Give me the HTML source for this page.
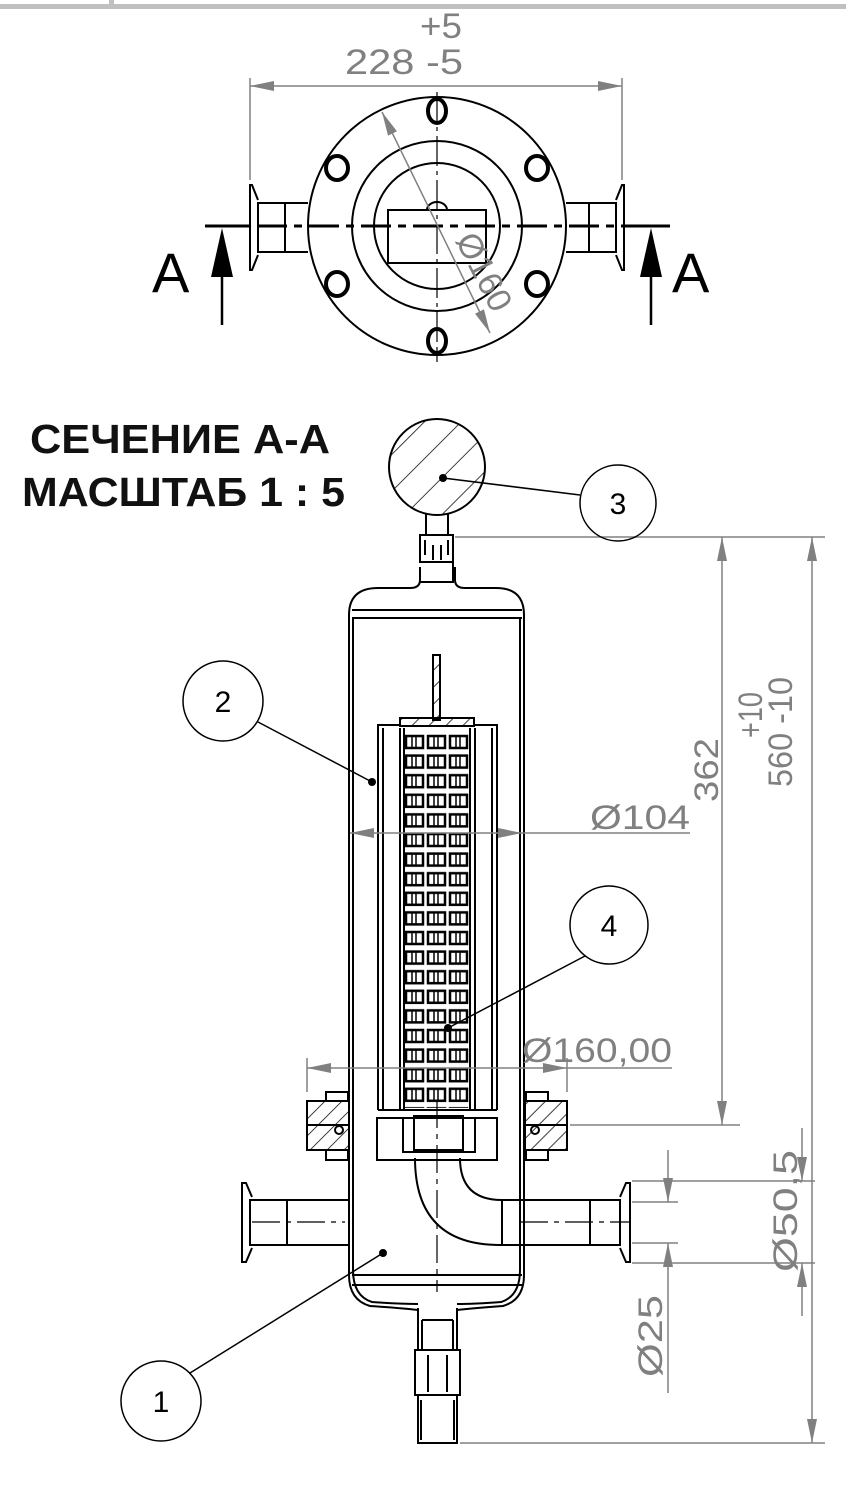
<!DOCTYPE html>
<html><head><meta charset="utf-8"><style>
html,body{margin:0;padding:0;background:#fff;}
svg{display:block;}
</style></head><body>
<svg width="846" height="1495" viewBox="0 0 846 1495" xmlns="http://www.w3.org/2000/svg" font-family="Liberation Sans, sans-serif">
<defs>
<marker id="ah" viewBox="0 0 24 10" refX="24" refY="5" markerWidth="24" markerHeight="10" markerUnits="userSpaceOnUse" orient="auto-start-reverse"><path d="M0,0 L24,5 L0,10 Z" fill="#808080"/></marker>
<pattern id="hatch" patternUnits="userSpaceOnUse" width="12" height="12" patternTransform="rotate(45)"><line x1="0" y1="0" x2="0" y2="12" stroke="#000" stroke-width="1.5"/></pattern>
<pattern id="hatchG" patternUnits="userSpaceOnUse" width="26" height="26" patternTransform="rotate(45)"><line x1="0" y1="0" x2="0" y2="26" stroke="#000" stroke-width="1.5"/></pattern>
<pattern id="grid" patternUnits="userSpaceOnUse" x="404" y="733" width="22" height="19.6">
<rect x="2" y="3" width="17" height="12" fill="none" stroke="#000" stroke-width="2.5"/>
<line x1="8" y1="4" x2="8" y2="14" stroke="#000" stroke-width="1.5"/><line x1="12" y1="4" x2="12" y2="14" stroke="#000" stroke-width="1.5"/>
</pattern>
<clipPath id="gc"><circle cx="437" cy="467" r="48"/></clipPath>
</defs>

<rect x="0" y="4" width="846" height="5" fill="#c0c0c0"/>
<rect x="109" y="0" width="5" height="6" fill="#c0c0c0"/>

<!-- ===== TOP VIEW ===== -->
<g fill="none" stroke="#000" stroke-width="2">
<circle cx="437" cy="226" r="129"/>
<circle cx="437" cy="226" r="85"/>
<circle cx="437" cy="226" r="63"/>
<rect x="388" y="210" width="98" height="53"/>
<path d="M427,210 A10,8 0 0 1 447,210"/>
<path d="M308,203 H258 V252 H308 M285,203 V252"/>
<path d="M258,200 L252,185 L250,185 V270 L252,270 L258,255"/>
<path d="M566,203 H616 V252 H566 M589,203 V252"/>
<path d="M616,200 L622,185 L624,185 V270 L622,270 L616,255"/>
</g>
<g fill="none" stroke="#000" stroke-width="4">
<ellipse cx="437" cy="111" rx="9" ry="12"/>
<ellipse cx="437" cy="341" rx="9" ry="12"/>
<ellipse cx="337" cy="168" rx="11" ry="12"/>
<ellipse cx="537" cy="168" rx="11" ry="12"/>
<ellipse cx="337" cy="284" rx="11" ry="12"/>
<ellipse cx="537" cy="284" rx="11" ry="12"/>
</g>
<line x1="437" y1="92" x2="437" y2="362" stroke="#000" stroke-width="1.2" stroke-dasharray="30,5,4,5"/>
<line x1="205" y1="226" x2="670" y2="226" stroke="#000" stroke-width="3" stroke-dasharray="30,7,8,7"/>
<line x1="205" y1="226" x2="250" y2="226" stroke="#000" stroke-width="3"/>
<line x1="624" y1="226" x2="670" y2="226" stroke="#000" stroke-width="3"/>
<line x1="222" y1="250" x2="222" y2="325" stroke="#000" stroke-width="2.5"/>
<path d="M222,228 L211,277 L233,277 Z" fill="#000"/>
<line x1="651" y1="250" x2="651" y2="325" stroke="#000" stroke-width="2.5"/>
<path d="M651,228 L640,277 L662,277 Z" fill="#000"/>
<text x="152" y="292" font-size="56" fill="#000">A</text>
<text x="672" y="292" font-size="56" fill="#000">A</text>
<g stroke="#808080" stroke-width="1.5" fill="none">
<line x1="250" y1="78" x2="250" y2="180"/>
<line x1="622" y1="78" x2="622" y2="180"/>
<line x1="250" y1="86" x2="622" y2="86" marker-start="url(#ah)" marker-end="url(#ah)"/>
<line x1="382" y1="112" x2="490" y2="333" marker-start="url(#ah)" marker-end="url(#ah)"/>
</g>
<text x="420" y="38" font-size="35" fill="#808080" textLength="42" lengthAdjust="spacingAndGlyphs">+5</text>
<text x="345" y="74" font-size="35" fill="#808080" textLength="118" lengthAdjust="spacingAndGlyphs">228 -5</text>
<text transform="translate(455,240) rotate(63)" font-size="34" fill="#808080">Ø160</text>

<!-- ===== TITLE ===== -->
<text x="30" y="453" font-size="41" font-weight="bold" fill="#111" textLength="300" lengthAdjust="spacingAndGlyphs">СЕЧЕНИЕ А-А</text>
<text x="22" y="506" font-size="41" font-weight="bold" fill="#111" textLength="323" lengthAdjust="spacingAndGlyphs">МАСШТАБ 1 : 5</text>

<!-- ===== SECTION VIEW ===== -->
<g fill="none" stroke="#000" stroke-width="2">
<g clip-path="url(#gc)"><rect x="380" y="410" width="120" height="120" fill="url(#hatchG)" stroke="none"/></g>
<circle cx="437" cy="467" r="48"/>
<path d="M426,514 V535 M448,514 V535"/>
<path d="M420,535 H453 V562 H420 Z M425,540 V555 M448,540 V555 M433,545 V560 M441,545 V560"/>
<path d="M420,562 H453 V582 H420"/>
<path d="M420,567 V580 Q420,588 410,588 H378 Q349,588 349,615 V1275 Q349,1300 370,1306 Q400,1308 418,1310 M455,567 V580 Q455,588 465,588 H496 Q524,588 524,615 V1275 Q524,1300 503,1306 Q475,1308 457,1310"/>
<path d="M353,618 V1270 Q353,1296 372,1302 Q400,1304 418,1304 M520,618 V1270 Q520,1296 501,1302 Q475,1304 457,1304"/>
<path d="M352,610 H522 M352,618 H522"/>
<path d="M352,1275 H522 M352,1285 H522"/>
<path d="M418,1308 V1350 M457,1308 V1350 M422,1320 H453 M422,1320 V1350 M453,1320 V1350"/>
<path d="M415,1350 H460 V1395 H415 Z M418,1395 V1443 H457 V1395 M421,1400 V1440 M454,1400 V1440 M428,1355 V1392 M447,1355 V1392"/>
<rect x="433" y="655" width="7" height="65" fill="url(#hatch)"/>
<path d="M400,718 H474 V725 H497 V1110 M400,718 V725 H378 V1110"/>
<rect x="400" y="718" width="74" height="8" fill="url(#hatch)"/>
<path d="M383,728 V1110 M492,728 V1110 M400,728 V1110 M404,728 V1110 M470,728 V1110 M475,728 V1110"/>
</g>
<rect x="404" y="733" width="66" height="375" fill="url(#grid)"/>
<g fill="none" stroke="#000" stroke-width="2">
<path d="M377,1118 H497 V1160 H377 Z"/>
<path d="M378,1110 H497"/>
<path d="M403,1118 V1152 H475 V1118"/>
<path d="M414,1116 H463 V1150 H414 Z"/>
<path d="M415,1158 Q415,1245 500,1245 M460,1158 Q460,1200 502,1200"/>
<rect x="307" y="1101" width="42" height="49" fill="url(#hatch)"/>
<rect x="525" y="1101" width="42" height="49" fill="url(#hatch)"/>
<line x1="307" y1="1125" x2="349" y2="1125"/><line x1="525" y1="1125" x2="567" y2="1125"/>
<path d="M326,1101 V1092 H348 V1101 M326,1150 V1160 H348 V1150 M526,1101 V1092 H548 V1101 M526,1150 V1160 H548 V1150"/>
<circle cx="339" cy="1130" r="4"/><circle cx="535" cy="1130" r="4"/>
<path d="M349,1200 H250 V1245 H349 M287,1200 V1245"/>
<path d="M252,1197 L246,1183 L242,1183 V1262 L246,1262 L252,1248"/>
<path d="M500,1200 H620 V1245 H500 M590,1200 V1245 M502,1200 V1245"/>
<path d="M620,1197 L626,1183 L630,1183 V1262 L626,1262 L620,1248"/>
</g>
<g stroke="#000" stroke-width="1.2" stroke-dasharray="28,6,5,6">
<line x1="437" y1="1100" x2="437" y2="1292"/>
<line x1="252" y1="1222" x2="345" y2="1222"/>
<line x1="520" y1="1222" x2="630" y2="1222"/>
</g>

<g stroke="#808080" stroke-width="1.5" fill="none">
<line x1="455" y1="537" x2="825" y2="537"/>
<line x1="570" y1="1125" x2="740" y2="1125"/>
<line x1="460" y1="1443" x2="825" y2="1443"/>
<line x1="722" y1="537" x2="722" y2="1125" marker-start="url(#ah)" marker-end="url(#ah)"/>
<line x1="812" y1="537" x2="812" y2="1443" marker-start="url(#ah)" marker-end="url(#ah)"/>
<line x1="350" y1="833" x2="522" y2="833" marker-start="url(#ah)" marker-end="url(#ah)"/>
<line x1="522" y1="833" x2="690" y2="833"/>
<line x1="307" y1="1058" x2="307" y2="1092"/>
<line x1="567" y1="1058" x2="567" y2="1092"/>
<line x1="307" y1="1068" x2="567" y2="1068" marker-start="url(#ah)" marker-end="url(#ah)"/>
<line x1="567" y1="1068" x2="672" y2="1068"/>
<line x1="632" y1="1181" x2="815" y2="1181"/>
<line x1="632" y1="1263" x2="815" y2="1263"/>
<line x1="632" y1="1202" x2="678" y2="1202"/>
<line x1="632" y1="1243" x2="678" y2="1243"/>
<line x1="668" y1="1150" x2="668" y2="1202" marker-end="url(#ah)"/>
<line x1="668" y1="1393" x2="668" y2="1243" marker-end="url(#ah)"/>
<line x1="802" y1="1128" x2="802" y2="1181" marker-end="url(#ah)"/>
<line x1="802" y1="1316" x2="802" y2="1263" marker-end="url(#ah)"/>
</g>
<g fill="#808080" font-size="34">
<text x="590" y="829" textLength="100" lengthAdjust="spacingAndGlyphs">Ø104</text>
<text x="522" y="1062" textLength="150" lengthAdjust="spacingAndGlyphs">Ø160,00</text>
<text transform="translate(718,802) rotate(-90)" textLength="64" lengthAdjust="spacingAndGlyphs">362</text>
<text transform="translate(792,787) rotate(-90)" textLength="110" lengthAdjust="spacingAndGlyphs">560 -10</text>
<text transform="translate(762,738) rotate(-90)" textLength="46" lengthAdjust="spacingAndGlyphs">+10</text>
<text transform="translate(797,1272) rotate(-90)" textLength="122" lengthAdjust="spacingAndGlyphs">Ø50,5</text>
<text transform="translate(662,1377) rotate(-90)" textLength="82" lengthAdjust="spacingAndGlyphs">Ø25</text>
</g>

<g fill="none" stroke="#000" stroke-width="1.5">
<circle cx="618" cy="503" r="38"/>
<circle cx="223" cy="701" r="40"/>
<circle cx="609" cy="925" r="39"/>
<circle cx="161" cy="1401" r="40"/>
<line x1="443" y1="478" x2="580" y2="495"/>
<line x1="258" y1="722" x2="372" y2="782"/>
<line x1="585" y1="956" x2="448" y2="1028"/>
<line x1="190" y1="1373" x2="383" y2="1253"/>
</g>
<g fill="#000">
<circle cx="443" cy="478" r="4"/><circle cx="372" cy="782" r="4"/><circle cx="448" cy="1028" r="4"/><circle cx="383" cy="1253" r="4"/>
</g>
<g font-size="30" text-anchor="middle" fill="#000">
<text x="618" y="514">3</text>
<text x="223" y="712">2</text>
<text x="609" y="936">4</text>
<text x="161" y="1412">1</text>
</g>
</svg>
</body></html>
